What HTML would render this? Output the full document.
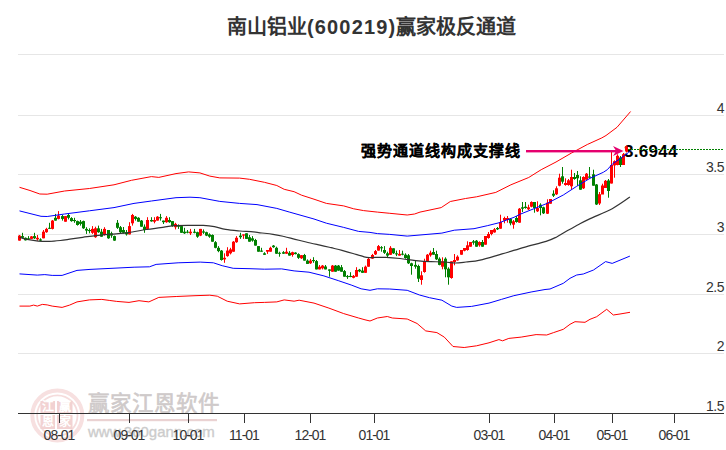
<!DOCTYPE html>
<html lang="zh-CN"><head><meta charset="utf-8">
<style>
html,body{margin:0;padding:0;background:#fff;}
body{width:726px;height:450px;position:relative;overflow:hidden;font-family:"Liberation Sans",sans-serif;}
.abs{position:absolute;white-space:nowrap;}
svg.abs{left:0;top:0;}
.title{left:227px;top:10.7px;font-size:20px;font-weight:bold;color:#333;}
.title .n{letter-spacing:1.15px;}
.yl{font-size:14px;color:#333;right:2px;text-align:right;letter-spacing:-0.5px;}
.xl{font-size:14px;color:#333;width:60px;text-align:center;letter-spacing:-1px;}
.note{left:361px;top:139px;font-size:15px;letter-spacing:1px;font-weight:bold;color:#000;-webkit-text-stroke:0.15px #000;}
.val{left:624px;top:142px;font-size:17px;font-weight:bold;color:#000;letter-spacing:0.3px;}
.wm{left:88px;top:385.5px;font-size:21.5px;color:#cfcaca;-webkit-text-stroke:0.6px #cfcaca;}
.wmu{left:88px;top:423px;font-size:15px;color:#cccccc;-webkit-text-stroke:0.35px #cccccc;}
.st{font-size:12px;font-weight:bold;color:#fff;line-height:12px;}
</style></head><body>
<svg class="abs" width="726" height="450" viewBox="0 0 726 450">
<circle cx="57.3" cy="415.5" r="25" fill="none" stroke="#f7e0e0" stroke-width="4"/>
<circle cx="57.3" cy="415.5" r="20.2" fill="none" stroke="#f5dcdc" stroke-width="1.8"/>
<rect x="40.5" y="401" width="14.5" height="12" fill="#f2d2d2"/>
<rect x="57" y="401" width="15.5" height="12" fill="#f2d2d2"/>
<rect x="40.5" y="415" width="14.5" height="14" fill="#f2d2d2"/>
<rect x="57" y="415" width="15.5" height="14" fill="#f2d2d2"/>
<rect x="87" y="419" width="130" height="2.2" fill="#ead2d2"/>
</svg>
<div class="abs st" style="left:41.5px;top:401px">江</div>
<div class="abs st" style="left:58.5px;top:401px">赢</div>
<div class="abs st" style="left:41.5px;top:416px">恩</div>
<div class="abs st" style="left:58.5px;top:416px">家</div>
<div class="abs wm">赢家江恩软件</div>
<div class="abs wmu">www.360gann.com</div>
<div class="abs note">强势通道线构成支撑线</div>
<div class="abs val">3.6944</div>
<svg class="abs" width="726" height="450" viewBox="0 0 726 450">
<rect x="18" y="54" width="706" height="1" fill="#e6e6e6"/>
<rect x="18" y="115" width="706" height="1" fill="#e6e6e6"/>
<rect x="18" y="174" width="706" height="1" fill="#e6e6e6"/>
<rect x="18" y="234" width="706" height="1" fill="#e6e6e6"/>
<rect x="18" y="294" width="706" height="1" fill="#e6e6e6"/>
<rect x="18" y="353" width="706" height="1" fill="#e6e6e6"/>
<rect x="19" y="235.0" width="1" height="5.6" fill="#ff0000"/>
<rect x="18" y="235.6" width="3" height="5.0" fill="#ff0000"/>
<rect x="22" y="232.8" width="1" height="5.5" fill="#008000"/>
<rect x="21" y="236.1" width="3" height="1.7" fill="#008000"/>
<rect x="25" y="237.5" width="1" height="3.0" fill="#008000"/>
<rect x="24" y="237.8" width="3" height="2.5" fill="#008000"/>
<rect x="28" y="236.1" width="1" height="3.3" fill="#008000"/>
<rect x="27" y="238.3" width="3" height="1.0" fill="#008000"/>
<rect x="31" y="236.0" width="1" height="3.0" fill="#ff0000"/>
<rect x="30" y="236.4" width="3" height="2.5" fill="#ff0000"/>
<rect x="34" y="232.8" width="1" height="6.1" fill="#008000"/>
<rect x="33" y="236.1" width="3" height="2.2" fill="#008000"/>
<rect x="37" y="235.0" width="1" height="5.6" fill="#ff0000"/>
<rect x="36" y="237.8" width="3" height="1.6" fill="#ff0000"/>
<rect x="40" y="238.3" width="1" height="2.8" fill="#008000"/>
<rect x="39" y="239.4" width="3" height="1.2" fill="#008000"/>
<rect x="43" y="230.0" width="1" height="8.3" fill="#ff0000"/>
<rect x="42" y="231.7" width="3" height="6.6" fill="#ff0000"/>
<rect x="46" y="227.8" width="1" height="5.0" fill="#ff0000"/>
<rect x="45" y="228.9" width="3" height="3.3" fill="#ff0000"/>
<rect x="49" y="222.8" width="1" height="6.1" fill="#008000"/>
<rect x="48" y="227.8" width="3" height="1.0" fill="#008000"/>
<rect x="52" y="220.0" width="1" height="9.4" fill="#ff0000"/>
<rect x="51" y="220.6" width="3" height="8.3" fill="#ff0000"/>
<rect x="55" y="213.9" width="1" height="6.7" fill="#008000"/>
<rect x="54" y="217.8" width="3" height="2.8" fill="#008000"/>
<rect x="58" y="211.1" width="1" height="8.3" fill="#ff0000"/>
<rect x="57" y="215.6" width="3" height="3.3" fill="#ff0000"/>
<rect x="62" y="215.0" width="1" height="5.6" fill="#008000"/>
<rect x="61" y="216.1" width="3" height="2.8" fill="#008000"/>
<rect x="65" y="216.0" width="1" height="5.7" fill="#ff0000"/>
<rect x="64" y="216.1" width="3" height="5.6" fill="#ff0000"/>
<rect x="68" y="213.3" width="1" height="6.1" fill="#008000"/>
<rect x="67" y="215.0" width="3" height="2.8" fill="#008000"/>
<rect x="71" y="217.2" width="1" height="4.5" fill="#008000"/>
<rect x="70" y="218.1" width="3" height="3.0" fill="#008000"/>
<rect x="74" y="217.8" width="1" height="5.0" fill="#008000"/>
<rect x="73" y="220.0" width="3" height="1.1" fill="#008000"/>
<rect x="77" y="220.6" width="1" height="5.0" fill="#008000"/>
<rect x="76" y="221.1" width="3" height="3.9" fill="#008000"/>
<rect x="80" y="220.0" width="1" height="5.6" fill="#008000"/>
<rect x="79" y="221.7" width="3" height="2.2" fill="#008000"/>
<rect x="83" y="220.6" width="1" height="8.3" fill="#008000"/>
<rect x="82" y="221.1" width="3" height="7.2" fill="#008000"/>
<rect x="86" y="227.2" width="1" height="6.7" fill="#008000"/>
<rect x="85" y="228.9" width="3" height="1.7" fill="#008000"/>
<rect x="89" y="228.3" width="1" height="5.0" fill="#008000"/>
<rect x="88" y="230.0" width="3" height="1.1" fill="#008000"/>
<rect x="92" y="226.1" width="1" height="7.8" fill="#ff0000"/>
<rect x="91" y="228.9" width="3" height="3.9" fill="#ff0000"/>
<rect x="95" y="226.7" width="1" height="11.1" fill="#ff0000"/>
<rect x="94" y="228.3" width="3" height="8.9" fill="#ff0000"/>
<rect x="98" y="225.6" width="1" height="7.2" fill="#008000"/>
<rect x="97" y="228.3" width="3" height="3.9" fill="#008000"/>
<rect x="101" y="228.9" width="1" height="7.8" fill="#008000"/>
<rect x="100" y="231.7" width="3" height="5.0" fill="#008000"/>
<rect x="104" y="227.2" width="1" height="8.4" fill="#ff0000"/>
<rect x="103" y="228.9" width="3" height="6.1" fill="#ff0000"/>
<rect x="108" y="230.0" width="1" height="8.8" fill="#008000"/>
<rect x="107" y="230.0" width="3" height="8.3" fill="#008000"/>
<rect x="111" y="231.7" width="1" height="6.1" fill="#008000"/>
<rect x="110" y="233.3" width="3" height="2.3" fill="#008000"/>
<rect x="114" y="235.6" width="1" height="5.2" fill="#008000"/>
<rect x="113" y="236.1" width="3" height="4.5" fill="#008000"/>
<rect x="117" y="220.0" width="1" height="8.9" fill="#008000"/>
<rect x="116" y="222.8" width="3" height="5.0" fill="#008000"/>
<rect x="120" y="226.0" width="1" height="7.0" fill="#008000"/>
<rect x="119" y="227.2" width="3" height="5.0" fill="#008000"/>
<rect x="123" y="227.0" width="1" height="6.5" fill="#008000"/>
<rect x="122" y="230.0" width="3" height="2.8" fill="#008000"/>
<rect x="126" y="230.0" width="1" height="5.6" fill="#008000"/>
<rect x="125" y="232.2" width="3" height="2.2" fill="#008000"/>
<rect x="129" y="222.2" width="1" height="12.2" fill="#ff0000"/>
<rect x="128" y="226.1" width="3" height="8.3" fill="#ff0000"/>
<rect x="132" y="213.9" width="1" height="11.7" fill="#ff0000"/>
<rect x="131" y="215.0" width="3" height="8.3" fill="#ff0000"/>
<rect x="135" y="216.1" width="1" height="4.5" fill="#008000"/>
<rect x="134" y="216.7" width="3" height="2.2" fill="#008000"/>
<rect x="138" y="217.2" width="1" height="4.5" fill="#008000"/>
<rect x="137" y="217.8" width="3" height="3.9" fill="#008000"/>
<rect x="141" y="220.0" width="1" height="6.7" fill="#008000"/>
<rect x="140" y="220.6" width="3" height="6.1" fill="#008000"/>
<rect x="144" y="224.4" width="1" height="8.4" fill="#008000"/>
<rect x="143" y="226.7" width="3" height="3.3" fill="#008000"/>
<rect x="147" y="217.2" width="1" height="12.8" fill="#ff0000"/>
<rect x="146" y="220.0" width="3" height="8.9" fill="#ff0000"/>
<rect x="151" y="217.2" width="1" height="4.5" fill="#008000"/>
<rect x="150" y="220.0" width="3" height="1.4" fill="#008000"/>
<rect x="154" y="217.2" width="1" height="6.1" fill="#ff0000"/>
<rect x="153" y="220.0" width="3" height="1.7" fill="#ff0000"/>
<rect x="157" y="216.1" width="1" height="4.5" fill="#ff0000"/>
<rect x="156" y="216.7" width="3" height="3.9" fill="#ff0000"/>
<rect x="160" y="213.9" width="1" height="6.7" fill="#008000"/>
<rect x="159" y="217.2" width="3" height="1.1" fill="#008000"/>
<rect x="163" y="220.6" width="1" height="3.4" fill="#008000"/>
<rect x="162" y="220.6" width="3" height="1.6" fill="#008000"/>
<rect x="166" y="216.1" width="1" height="6.7" fill="#ff0000"/>
<rect x="165" y="217.8" width="3" height="4.4" fill="#ff0000"/>
<rect x="169" y="217.2" width="1" height="5.6" fill="#008000"/>
<rect x="168" y="220.0" width="3" height="2.2" fill="#008000"/>
<rect x="172" y="221.1" width="1" height="5.6" fill="#008000"/>
<rect x="171" y="221.1" width="3" height="5.0" fill="#008000"/>
<rect x="175" y="222.8" width="1" height="6.6" fill="#ff0000"/>
<rect x="174" y="223.9" width="3" height="3.3" fill="#ff0000"/>
<rect x="178" y="224.4" width="1" height="4.5" fill="#008000"/>
<rect x="177" y="225.6" width="3" height="1.1" fill="#008000"/>
<rect x="181" y="225.6" width="1" height="7.2" fill="#008000"/>
<rect x="180" y="226.1" width="3" height="6.7" fill="#008000"/>
<rect x="184" y="227.8" width="1" height="6.1" fill="#008000"/>
<rect x="183" y="231.7" width="3" height="1.6" fill="#008000"/>
<rect x="187" y="230.0" width="1" height="3.3" fill="#008000"/>
<rect x="186" y="231.7" width="3" height="1.0" fill="#008000"/>
<rect x="190" y="228.9" width="1" height="6.1" fill="#ff0000"/>
<rect x="189" y="231.7" width="3" height="1.6" fill="#ff0000"/>
<rect x="194" y="228.9" width="1" height="4.4" fill="#008000"/>
<rect x="193" y="231.7" width="3" height="1.1" fill="#008000"/>
<rect x="197" y="231.7" width="1" height="6.1" fill="#008000"/>
<rect x="196" y="232.2" width="3" height="4.5" fill="#008000"/>
<rect x="200" y="228.9" width="1" height="7.2" fill="#ff0000"/>
<rect x="199" y="228.9" width="3" height="6.7" fill="#ff0000"/>
<rect x="203" y="229.4" width="1" height="4.5" fill="#008000"/>
<rect x="202" y="231.4" width="3" height="1.2" fill="#008000"/>
<rect x="206" y="231.7" width="1" height="4.4" fill="#008000"/>
<rect x="205" y="232.2" width="3" height="3.4" fill="#008000"/>
<rect x="209" y="233.3" width="1" height="4.5" fill="#008000"/>
<rect x="208" y="234.4" width="3" height="2.3" fill="#008000"/>
<rect x="212" y="234.4" width="1" height="7.3" fill="#008000"/>
<rect x="211" y="235.0" width="3" height="6.7" fill="#008000"/>
<rect x="215" y="241.1" width="1" height="7.2" fill="#008000"/>
<rect x="214" y="242.2" width="3" height="5.6" fill="#008000"/>
<rect x="218" y="246.1" width="1" height="6.1" fill="#008000"/>
<rect x="217" y="247.8" width="3" height="3.3" fill="#008000"/>
<rect x="221" y="250.0" width="1" height="10.6" fill="#008000"/>
<rect x="220" y="250.6" width="3" height="9.4" fill="#008000"/>
<rect x="224" y="253.3" width="1" height="9.5" fill="#ff0000"/>
<rect x="223" y="257.8" width="3" height="1.6" fill="#ff0000"/>
<rect x="227" y="247.2" width="1" height="9.5" fill="#ff0000"/>
<rect x="226" y="250.6" width="3" height="5.5" fill="#ff0000"/>
<rect x="230" y="247.8" width="1" height="6.6" fill="#ff0000"/>
<rect x="229" y="249.4" width="3" height="3.9" fill="#ff0000"/>
<rect x="233" y="241.1" width="1" height="10.6" fill="#ff0000"/>
<rect x="232" y="241.7" width="3" height="10.0" fill="#ff0000"/>
<rect x="236" y="236.1" width="1" height="6.7" fill="#ff0000"/>
<rect x="235" y="237.8" width="3" height="4.4" fill="#ff0000"/>
<rect x="240" y="232.8" width="1" height="6.1" fill="#008000"/>
<rect x="239" y="235.6" width="3" height="1.6" fill="#008000"/>
<rect x="243" y="234.4" width="1" height="4.5" fill="#ff0000"/>
<rect x="242" y="234.4" width="3" height="1.2" fill="#ff0000"/>
<rect x="246" y="233.3" width="1" height="5.6" fill="#008000"/>
<rect x="245" y="233.3" width="3" height="5.6" fill="#008000"/>
<rect x="249" y="235.0" width="1" height="6.7" fill="#008000"/>
<rect x="248" y="237.2" width="3" height="4.5" fill="#008000"/>
<rect x="252" y="236.1" width="1" height="5.6" fill="#008000"/>
<rect x="251" y="238.3" width="3" height="2.3" fill="#008000"/>
<rect x="255" y="238.9" width="1" height="6.7" fill="#008000"/>
<rect x="254" y="240.0" width="3" height="5.6" fill="#008000"/>
<rect x="258" y="246.1" width="1" height="5.6" fill="#008000"/>
<rect x="257" y="246.1" width="3" height="5.6" fill="#008000"/>
<rect x="261" y="247.8" width="1" height="3.9" fill="#008000"/>
<rect x="260" y="250.6" width="3" height="1.1" fill="#008000"/>
<rect x="264" y="252.2" width="1" height="2.8" fill="#008000"/>
<rect x="263" y="253.3" width="3" height="1.5" fill="#008000"/>
<rect x="267" y="250.0" width="1" height="3.9" fill="#ff0000"/>
<rect x="266" y="250.0" width="3" height="1.7" fill="#ff0000"/>
<rect x="270" y="246.7" width="1" height="5.0" fill="#ff0000"/>
<rect x="269" y="247.8" width="3" height="3.9" fill="#ff0000"/>
<rect x="273" y="245.0" width="1" height="2.8" fill="#008000"/>
<rect x="272" y="245.6" width="3" height="1.6" fill="#008000"/>
<rect x="276" y="246.7" width="1" height="7.2" fill="#008000"/>
<rect x="275" y="247.8" width="3" height="5.9" fill="#008000"/>
<rect x="279" y="251.7" width="1" height="5.0" fill="#008000"/>
<rect x="278" y="252.8" width="3" height="1.0" fill="#008000"/>
<rect x="283" y="251.1" width="1" height="2.8" fill="#008000"/>
<rect x="282" y="252.2" width="3" height="1.5" fill="#008000"/>
<rect x="286" y="247.8" width="1" height="6.1" fill="#ff0000"/>
<rect x="285" y="251.7" width="3" height="2.0" fill="#ff0000"/>
<rect x="289" y="251.1" width="1" height="4.5" fill="#008000"/>
<rect x="288" y="252.8" width="3" height="2.8" fill="#008000"/>
<rect x="292" y="251.7" width="1" height="5.0" fill="#ff0000"/>
<rect x="291" y="252.2" width="3" height="2.8" fill="#ff0000"/>
<rect x="295" y="252.2" width="1" height="2.2" fill="#008000"/>
<rect x="294" y="252.6" width="3" height="1.5" fill="#008000"/>
<rect x="298" y="253.3" width="1" height="5.6" fill="#008000"/>
<rect x="297" y="254.1" width="3" height="3.7" fill="#008000"/>
<rect x="301" y="255.0" width="1" height="3.9" fill="#ff0000"/>
<rect x="300" y="255.2" width="3" height="3.1" fill="#ff0000"/>
<rect x="304" y="253.9" width="1" height="6.7" fill="#008000"/>
<rect x="303" y="255.0" width="3" height="5.6" fill="#008000"/>
<rect x="307" y="259.4" width="1" height="4.5" fill="#008000"/>
<rect x="306" y="260.6" width="3" height="3.3" fill="#008000"/>
<rect x="310" y="258.9" width="1" height="5.0" fill="#ff0000"/>
<rect x="309" y="260.6" width="3" height="2.7" fill="#ff0000"/>
<rect x="313" y="257.2" width="1" height="5.6" fill="#008000"/>
<rect x="312" y="260.0" width="3" height="1.1" fill="#008000"/>
<rect x="316" y="260.0" width="1" height="9.4" fill="#008000"/>
<rect x="315" y="261.1" width="3" height="8.3" fill="#008000"/>
<rect x="319" y="265.0" width="1" height="4.4" fill="#ff0000"/>
<rect x="318" y="266.7" width="3" height="2.7" fill="#ff0000"/>
<rect x="322" y="265.0" width="1" height="4.4" fill="#ff0000"/>
<rect x="321" y="265.6" width="3" height="2.7" fill="#ff0000"/>
<rect x="325" y="265.0" width="1" height="4.4" fill="#008000"/>
<rect x="324" y="266.5" width="3" height="2.9" fill="#008000"/>
<rect x="329" y="269.4" width="1" height="7.3" fill="#008000"/>
<rect x="328" y="269.4" width="3" height="1.4" fill="#008000"/>
<rect x="332" y="265.0" width="1" height="6.7" fill="#ff0000"/>
<rect x="331" y="265.6" width="3" height="6.1" fill="#ff0000"/>
<rect x="335" y="265.0" width="1" height="6.7" fill="#008000"/>
<rect x="334" y="265.6" width="3" height="6.1" fill="#008000"/>
<rect x="338" y="265.0" width="1" height="5.8" fill="#008000"/>
<rect x="337" y="265.6" width="3" height="5.0" fill="#008000"/>
<rect x="341" y="265.0" width="1" height="6.7" fill="#008000"/>
<rect x="340" y="267.2" width="3" height="4.5" fill="#008000"/>
<rect x="344" y="270.0" width="1" height="6.7" fill="#008000"/>
<rect x="343" y="271.1" width="3" height="5.6" fill="#008000"/>
<rect x="347" y="275.0" width="1" height="3.9" fill="#008000"/>
<rect x="346" y="276.1" width="3" height="1.0" fill="#008000"/>
<rect x="350" y="272.2" width="1" height="5.0" fill="#008000"/>
<rect x="349" y="275.9" width="3" height="1.1" fill="#008000"/>
<rect x="353" y="275.0" width="1" height="3.3" fill="#ff0000"/>
<rect x="352" y="275.9" width="3" height="1.9" fill="#ff0000"/>
<rect x="356" y="267.2" width="1" height="9.5" fill="#ff0000"/>
<rect x="355" y="270.0" width="3" height="6.7" fill="#ff0000"/>
<rect x="359" y="268.9" width="1" height="3.3" fill="#008000"/>
<rect x="358" y="269.7" width="3" height="1.7" fill="#008000"/>
<rect x="362" y="267.2" width="1" height="5.6" fill="#008000"/>
<rect x="361" y="270.6" width="3" height="2.2" fill="#008000"/>
<rect x="365" y="265.6" width="1" height="7.2" fill="#ff0000"/>
<rect x="364" y="266.7" width="3" height="6.1" fill="#ff0000"/>
<rect x="368" y="257.8" width="1" height="8.9" fill="#ff0000"/>
<rect x="367" y="258.9" width="3" height="7.8" fill="#ff0000"/>
<rect x="372" y="253.9" width="1" height="5.0" fill="#ff0000"/>
<rect x="371" y="255.0" width="3" height="3.6" fill="#ff0000"/>
<rect x="375" y="250.0" width="1" height="5.0" fill="#ff0000"/>
<rect x="374" y="251.1" width="3" height="3.3" fill="#ff0000"/>
<rect x="378" y="245.0" width="1" height="5.6" fill="#ff0000"/>
<rect x="377" y="246.1" width="3" height="4.5" fill="#ff0000"/>
<rect x="381" y="246.1" width="1" height="5.6" fill="#008000"/>
<rect x="380" y="247.2" width="3" height="1.1" fill="#008000"/>
<rect x="384" y="246.1" width="1" height="7.8" fill="#008000"/>
<rect x="383" y="250.0" width="3" height="2.8" fill="#008000"/>
<rect x="387" y="251.7" width="1" height="5.5" fill="#008000"/>
<rect x="386" y="253.3" width="3" height="2.3" fill="#008000"/>
<rect x="390" y="246.1" width="1" height="8.9" fill="#ff0000"/>
<rect x="389" y="247.8" width="3" height="7.0" fill="#ff0000"/>
<rect x="393" y="248.3" width="1" height="5.6" fill="#008000"/>
<rect x="392" y="248.3" width="3" height="5.0" fill="#008000"/>
<rect x="396" y="250.6" width="1" height="5.5" fill="#008000"/>
<rect x="395" y="253.3" width="3" height="1.1" fill="#008000"/>
<rect x="399" y="250.0" width="1" height="5.6" fill="#ff0000"/>
<rect x="398" y="253.9" width="3" height="1.7" fill="#ff0000"/>
<rect x="402" y="250.7" width="1" height="4.6" fill="#008000"/>
<rect x="401" y="253.7" width="3" height="1.0" fill="#008000"/>
<rect x="405" y="253.3" width="1" height="5.4" fill="#008000"/>
<rect x="404" y="254.7" width="3" height="3.3" fill="#008000"/>
<rect x="408" y="254.0" width="1" height="10.0" fill="#008000"/>
<rect x="407" y="255.3" width="3" height="8.0" fill="#008000"/>
<rect x="411" y="262.7" width="1" height="12.0" fill="#008000"/>
<rect x="410" y="263.3" width="3" height="2.7" fill="#008000"/>
<rect x="415" y="260.7" width="1" height="8.0" fill="#008000"/>
<rect x="414" y="264.9" width="3" height="1.8" fill="#008000"/>
<rect x="418" y="264.7" width="1" height="17.3" fill="#008000"/>
<rect x="417" y="266.0" width="3" height="12.7" fill="#008000"/>
<rect x="421" y="271.3" width="1" height="13.4" fill="#ff0000"/>
<rect x="420" y="275.3" width="3" height="4.7" fill="#ff0000"/>
<rect x="424" y="258.7" width="1" height="14.0" fill="#ff0000"/>
<rect x="423" y="262.0" width="3" height="10.0" fill="#ff0000"/>
<rect x="427" y="254.0" width="1" height="8.0" fill="#ff0000"/>
<rect x="426" y="254.7" width="3" height="6.6" fill="#ff0000"/>
<rect x="430" y="250.7" width="1" height="6.0" fill="#ff0000"/>
<rect x="429" y="252.7" width="3" height="2.6" fill="#ff0000"/>
<rect x="433" y="248.0" width="1" height="6.7" fill="#008000"/>
<rect x="432" y="252.0" width="3" height="2.7" fill="#008000"/>
<rect x="436" y="250.7" width="1" height="9.3" fill="#008000"/>
<rect x="435" y="254.0" width="3" height="5.3" fill="#008000"/>
<rect x="439" y="257.3" width="1" height="8.0" fill="#008000"/>
<rect x="438" y="258.7" width="3" height="6.2" fill="#008000"/>
<rect x="442" y="257.3" width="1" height="12.0" fill="#ff0000"/>
<rect x="441" y="261.3" width="3" height="5.4" fill="#ff0000"/>
<rect x="445" y="257.3" width="1" height="20.0" fill="#008000"/>
<rect x="444" y="258.7" width="3" height="10.6" fill="#008000"/>
<rect x="448" y="267.3" width="1" height="17.4" fill="#008000"/>
<rect x="447" y="268.7" width="3" height="8.6" fill="#008000"/>
<rect x="451" y="261.3" width="1" height="17.4" fill="#ff0000"/>
<rect x="450" y="261.3" width="3" height="16.7" fill="#ff0000"/>
<rect x="454" y="254.0" width="1" height="11.3" fill="#ff0000"/>
<rect x="453" y="260.0" width="3" height="2.0" fill="#ff0000"/>
<rect x="457" y="255.3" width="1" height="5.4" fill="#ff0000"/>
<rect x="456" y="256.7" width="3" height="3.7" fill="#ff0000"/>
<rect x="461" y="250.0" width="1" height="4.7" fill="#ff0000"/>
<rect x="460" y="250.0" width="3" height="4.7" fill="#ff0000"/>
<rect x="464" y="248.0" width="1" height="3.3" fill="#ff0000"/>
<rect x="463" y="248.0" width="3" height="2.7" fill="#ff0000"/>
<rect x="467" y="241.3" width="1" height="9.4" fill="#ff0000"/>
<rect x="466" y="245.3" width="3" height="4.7" fill="#ff0000"/>
<rect x="470" y="242.0" width="1" height="4.7" fill="#ff0000"/>
<rect x="469" y="242.0" width="3" height="4.7" fill="#ff0000"/>
<rect x="473" y="240.0" width="1" height="4.7" fill="#008000"/>
<rect x="472" y="241.3" width="3" height="1.4" fill="#008000"/>
<rect x="476" y="240.0" width="1" height="6.7" fill="#008000"/>
<rect x="475" y="240.7" width="3" height="6.0" fill="#008000"/>
<rect x="479" y="241.3" width="1" height="5.4" fill="#ff0000"/>
<rect x="478" y="242.0" width="3" height="3.3" fill="#ff0000"/>
<rect x="482" y="240.0" width="1" height="6.7" fill="#008000"/>
<rect x="481" y="242.0" width="3" height="4.7" fill="#008000"/>
<rect x="485" y="236.0" width="1" height="8.7" fill="#ff0000"/>
<rect x="484" y="236.0" width="3" height="8.7" fill="#ff0000"/>
<rect x="488" y="232.0" width="1" height="6.7" fill="#ff0000"/>
<rect x="487" y="234.0" width="3" height="4.0" fill="#ff0000"/>
<rect x="491" y="230.0" width="1" height="5.3" fill="#ff0000"/>
<rect x="490" y="230.0" width="3" height="4.0" fill="#ff0000"/>
<rect x="494" y="228.0" width="1" height="4.7" fill="#ff0000"/>
<rect x="493" y="229.3" width="3" height="3.1" fill="#ff0000"/>
<rect x="497" y="227.0" width="1" height="3.0" fill="#008000"/>
<rect x="496" y="228.0" width="3" height="1.3" fill="#008000"/>
<rect x="500" y="214.7" width="1" height="14.0" fill="#ff0000"/>
<rect x="499" y="222.0" width="3" height="6.7" fill="#ff0000"/>
<rect x="504" y="216.7" width="1" height="6.6" fill="#ff0000"/>
<rect x="503" y="218.0" width="3" height="2.7" fill="#ff0000"/>
<rect x="507" y="216.0" width="1" height="6.7" fill="#ff0000"/>
<rect x="506" y="218.0" width="3" height="2.0" fill="#ff0000"/>
<rect x="510" y="218.0" width="1" height="7.3" fill="#008000"/>
<rect x="509" y="218.7" width="3" height="4.6" fill="#008000"/>
<rect x="513" y="220.0" width="1" height="8.7" fill="#ff0000"/>
<rect x="512" y="221.3" width="3" height="3.4" fill="#ff0000"/>
<rect x="516" y="216.0" width="1" height="6.7" fill="#008000"/>
<rect x="515" y="218.0" width="3" height="4.0" fill="#008000"/>
<rect x="519" y="208.0" width="1" height="14.7" fill="#ff0000"/>
<rect x="518" y="208.7" width="3" height="14.0" fill="#ff0000"/>
<rect x="522" y="202.0" width="1" height="10.0" fill="#008000"/>
<rect x="521" y="207.3" width="3" height="1.4" fill="#008000"/>
<rect x="525" y="202.0" width="1" height="6.7" fill="#008000"/>
<rect x="524" y="206.7" width="3" height="1.3" fill="#008000"/>
<rect x="528" y="204.7" width="1" height="5.3" fill="#ff0000"/>
<rect x="527" y="207.3" width="3" height="2.0" fill="#ff0000"/>
<rect x="531" y="201.3" width="1" height="6.0" fill="#ff0000"/>
<rect x="530" y="202.0" width="3" height="4.7" fill="#ff0000"/>
<rect x="534" y="202.0" width="1" height="10.7" fill="#008000"/>
<rect x="533" y="202.0" width="3" height="6.0" fill="#008000"/>
<rect x="537" y="201.3" width="1" height="10.7" fill="#ff0000"/>
<rect x="536" y="208.0" width="3" height="3.3" fill="#ff0000"/>
<rect x="540" y="203.3" width="1" height="12.0" fill="#008000"/>
<rect x="539" y="204.7" width="3" height="3.3" fill="#008000"/>
<rect x="543" y="206.7" width="1" height="7.3" fill="#008000"/>
<rect x="542" y="207.3" width="3" height="6.0" fill="#008000"/>
<rect x="547" y="199.3" width="1" height="14.7" fill="#ff0000"/>
<rect x="546" y="202.7" width="3" height="11.0" fill="#ff0000"/>
<rect x="550" y="199.3" width="1" height="4.4" fill="#ff0000"/>
<rect x="549" y="199.0" width="3" height="4.7" fill="#ff0000"/>
<rect x="553" y="190.3" width="1" height="6.7" fill="#008000"/>
<rect x="552" y="193.7" width="3" height="2.0" fill="#008000"/>
<rect x="556" y="186.3" width="1" height="8.7" fill="#ff0000"/>
<rect x="555" y="188.3" width="3" height="6.0" fill="#ff0000"/>
<rect x="559" y="173.7" width="1" height="12.6" fill="#ff0000"/>
<rect x="558" y="177.7" width="3" height="8.0" fill="#ff0000"/>
<rect x="562" y="167.0" width="1" height="16.7" fill="#008000"/>
<rect x="561" y="176.3" width="3" height="5.4" fill="#008000"/>
<rect x="565" y="178.3" width="1" height="7.4" fill="#ff0000"/>
<rect x="564" y="183.0" width="3" height="2.0" fill="#ff0000"/>
<rect x="568" y="179.0" width="1" height="6.7" fill="#ff0000"/>
<rect x="567" y="180.3" width="3" height="4.7" fill="#ff0000"/>
<rect x="571" y="169.7" width="1" height="20.0" fill="#ff0000"/>
<rect x="570" y="177.0" width="3" height="9.3" fill="#ff0000"/>
<rect x="574" y="173.0" width="1" height="6.7" fill="#008000"/>
<rect x="573" y="177.0" width="3" height="2.0" fill="#008000"/>
<rect x="577" y="171.0" width="1" height="14.7" fill="#008000"/>
<rect x="576" y="175.0" width="3" height="3.3" fill="#008000"/>
<rect x="580" y="176.3" width="1" height="13.4" fill="#008000"/>
<rect x="579" y="180.3" width="3" height="9.4" fill="#008000"/>
<rect x="583" y="176.3" width="1" height="12.7" fill="#ff0000"/>
<rect x="582" y="177.0" width="3" height="11.3" fill="#ff0000"/>
<rect x="586" y="173.0" width="1" height="6.7" fill="#ff0000"/>
<rect x="585" y="173.7" width="3" height="6.0" fill="#ff0000"/>
<rect x="589" y="167.0" width="1" height="10.7" fill="#008000"/>
<rect x="588" y="176.5" width="3" height="1.2" fill="#008000"/>
<rect x="593" y="169.7" width="1" height="16.0" fill="#008000"/>
<rect x="592" y="174.3" width="3" height="11.4" fill="#008000"/>
<rect x="596" y="184.0" width="1" height="21.0" fill="#008000"/>
<rect x="595" y="184.5" width="3" height="20.0" fill="#008000"/>
<rect x="599" y="192.0" width="1" height="13.0" fill="#ff0000"/>
<rect x="598" y="194.2" width="3" height="9.3" fill="#ff0000"/>
<rect x="602" y="183.7" width="1" height="10.3" fill="#ff0000"/>
<rect x="601" y="185.5" width="3" height="9.0" fill="#ff0000"/>
<rect x="605" y="180.0" width="1" height="7.7" fill="#ff0000"/>
<rect x="604" y="180.8" width="3" height="7.2" fill="#ff0000"/>
<rect x="608" y="179.0" width="1" height="18.7" fill="#008000"/>
<rect x="607" y="180.5" width="3" height="10.5" fill="#008000"/>
<rect x="611" y="151.7" width="1" height="31.8" fill="#ff0000"/>
<rect x="610" y="165.0" width="3" height="18.5" fill="#ff0000"/>
<rect x="614" y="160.3" width="1" height="17.4" fill="#ff0000"/>
<rect x="613" y="161.2" width="3" height="4.2" fill="#ff0000"/>
<rect x="617" y="154.3" width="1" height="11.0" fill="#ff0000"/>
<rect x="616" y="155.8" width="3" height="9.2" fill="#ff0000"/>
<rect x="620" y="156.0" width="1" height="11.0" fill="#008000"/>
<rect x="619" y="157.5" width="3" height="7.5" fill="#008000"/>
<rect x="623" y="153.0" width="1" height="12.0" fill="#ff0000"/>
<rect x="622" y="154.2" width="3" height="10.8" fill="#ff0000"/>
<rect x="626" y="145.5" width="1" height="7.0" fill="#ff0000"/>
<rect x="625" y="146.5" width="3" height="5.0" fill="#ff0000"/>
<polyline points="19.5,187.3 30.0,190.5 39.8,194.0 47.2,194.2 64.6,191.0 89.4,188.5 114.0,184.8 131.5,180.3 151.4,176.6 158.8,177.4 176.0,173.6 188.6,171.9 199.9,172.9 209.8,176.1 219.8,177.9 239.6,178.1 249.5,179.3 264.4,182.3 276.8,185.5 284.2,189.3 294.1,191.7 301.6,195.2 314.0,199.2 326.4,203.4 343.7,205.9 353.7,208.8 363.6,210.6 377.4,212.1 389.8,213.3 407.2,215.0 414.6,214.0 420.0,212.1 441.2,207.6 450.3,201.5 465.5,198.5 476.6,196.8 495.8,192.4 510.9,184.8 528.7,177.5 541.2,169.7 556.0,162.0 571.5,153.0 587.3,144.5 601.8,137.9 606.0,135.5 617.0,127.3 630.6,111.5" fill="none" stroke="#ff0000" stroke-width="1"/>
<polyline points="19.5,306.1 29.9,306.1 33.6,305.1 37.3,306.1 42.3,304.4 47.2,304.9 52.2,306.1 62.1,307.4 69.6,305.1 77.0,301.9 89.4,299.9 101.8,299.4 109.2,300.4 116.7,301.4 129.0,302.4 139.0,300.7 148.9,301.9 158.8,297.4 176.2,296.5 195.0,295.7 209.8,295.2 217.3,296.2 227.2,301.2 239.6,303.9 254.5,302.7 264.4,302.4 276.8,301.9 284.2,299.9 294.1,301.2 299.1,300.2 314.0,303.1 328.9,308.1 343.7,313.6 358.6,318.0 365.0,319.8 370.0,321.0 377.4,318.0 387.3,316.5 392.3,318.0 407.2,319.0 417.1,323.5 425.7,330.9 436.9,332.6 444.3,337.1 453.0,346.5 464.2,347.5 476.6,345.8 489.0,342.8 498.9,339.6 502.6,340.8 508.8,338.4 521.2,337.1 536.1,334.6 546.7,335.0 553.3,332.7 563.3,329.3 570.0,324.3 575.0,321.7 585.0,322.3 590.0,319.3 596.7,316.7 606.7,309.3 613.3,315.0 620.0,314.0 630.0,312.3" fill="none" stroke="#ff0000" stroke-width="1"/>
<polyline points="19.5,210.9 41.0,216.3 47.2,216.5 64.6,214.0 89.4,210.8 114.0,207.6 134.0,203.4 151.4,201.0 176.0,197.7 190.0,197.2 199.9,197.7 219.8,201.4 239.6,203.4 257.0,204.6 276.8,208.4 289.2,212.0 314.0,219.0 326.4,223.2 343.7,227.4 358.6,231.4 370.0,232.4 377.4,233.6 389.8,234.4 407.2,236.1 427.0,234.4 441.9,233.1 454.3,230.2 474.0,228.7 487.3,225.7 499.3,222.7 514.0,217.3 520.7,214.0 534.0,208.7 547.3,203.3 563.3,195.0 576.7,186.3 590.0,178.3 603.3,172.3 607.3,169.7 612.7,163.7 620.7,158.3 628.7,152.3 630.5,151.0" fill="none" stroke="#0000ff" stroke-width="1"/>
<polyline points="19.5,273.9 37.3,275.1 44.8,274.6 52.2,275.4 62.1,275.4 77.0,270.4 90.0,269.4 112.0,268.3 134.1,267.2 149.5,266.8 156.1,264.4 178.1,262.8 200.2,262.1 213.4,262.8 222.2,265.7 233.2,268.3 250.0,268.7 264.4,269.2 281.7,268.9 294.1,270.9 309.0,272.2 323.9,275.9 338.8,280.8 351.2,285.0 361.1,288.8 370.0,290.3 377.4,288.8 389.8,289.0 407.2,290.3 419.5,295.0 429.5,297.7 441.9,300.2 451.8,306.1 456.7,307.4 471.6,306.4 489.0,303.1 501.4,299.4 513.8,295.7 531.1,292.0 545.0,289.5 550.0,289.0 563.3,283.3 570.0,278.3 576.7,275.0 583.3,274.0 593.5,270.0 605.6,261.6 612.2,263.4 629.9,256.1" fill="none" stroke="#0000ff" stroke-width="1"/>
<path d="M19.5,237.4 C20.8,237.7 24.0,238.8 27.1,239.4 C30.2,240.0 34.5,240.8 38.2,241.1 C41.9,241.4 45.6,241.5 49.3,241.4 C53.0,241.3 56.7,240.9 60.4,240.5 C64.1,240.1 67.9,239.4 71.6,238.9 C75.3,238.4 78.6,237.9 82.7,237.3 C86.8,236.8 90.4,236.2 96.0,235.6 C101.6,235.0 110.8,234.3 116.2,233.8 C121.6,233.3 123.6,233.3 128.6,232.6 C133.6,231.9 141.0,230.3 146.3,229.5 C151.7,228.7 156.1,228.3 160.7,227.7 C165.3,227.0 168.8,226.0 174.0,225.6 C179.2,225.2 187.3,225.3 192.2,225.3 C197.1,225.3 199.6,225.2 203.3,225.4 C207.0,225.6 210.7,226.0 214.4,226.7 C218.1,227.4 221.3,228.7 225.6,229.4 C229.9,230.1 235.8,230.6 240.0,231.0 C244.2,231.4 247.3,231.3 251.0,231.6 C254.7,231.9 258.3,232.6 262.0,233.0 C265.7,233.4 269.3,233.7 273.0,234.3 C276.7,234.9 280.3,235.7 284.0,236.5 C287.7,237.3 291.4,238.4 295.1,239.3 C298.8,240.2 302.0,241.0 306.1,242.0 C310.2,243.0 315.9,244.2 320.0,245.1 C324.1,246.0 327.3,246.8 331.0,247.7 C334.7,248.6 338.3,249.4 342.0,250.4 C345.7,251.4 349.3,252.4 353.0,253.5 C356.7,254.6 361.3,256.1 364.1,256.8 C366.9,257.5 367.8,257.5 369.6,257.6 C371.4,257.7 372.4,257.4 375.1,257.4 C377.9,257.4 382.0,257.2 386.1,257.4 C390.2,257.6 394.2,257.9 400.0,258.5 C405.8,259.1 413.7,260.6 421.0,261.2 C428.3,261.8 438.3,261.7 444.0,262.0 C449.7,262.3 451.3,263.0 455.0,263.0 C458.7,263.0 461.8,262.5 466.0,262.0 C470.2,261.5 474.0,261.5 480.0,260.1 C486.0,258.8 494.6,256.0 502.0,253.9 C509.4,251.8 516.8,249.4 524.1,247.3 C531.5,245.2 540.6,243.2 546.1,241.4 C551.6,239.6 553.4,238.5 557.1,236.7 C560.8,234.8 564.4,232.4 568.1,230.3 C571.8,228.2 575.5,226.1 579.2,224.2 C582.9,222.2 584.7,221.2 590.2,218.6 C595.7,216.0 605.6,212.3 612.2,208.7 C618.8,205.1 627.0,199.0 629.9,197.1" fill="none" stroke="#333333" stroke-width="1.2"/>
<rect x="18" y="413" width="706" height="1" fill="#333"/>
<g fill="#333">
<rect x="59" y="413" width="1" height="10"/>
<rect x="129" y="413" width="1" height="10"/>
<rect x="188" y="413" width="1" height="10"/>
<rect x="244" y="413" width="1" height="10"/>
<rect x="310" y="413" width="1" height="10"/>
<rect x="374" y="413" width="1" height="10"/>
<rect x="489" y="413" width="1" height="10"/>
<rect x="554" y="413" width="1" height="10"/>
<rect x="612" y="413" width="1" height="10"/>
<rect x="674" y="413" width="1" height="10"/>
</g>
<rect x="526" y="150" width="90" height="2.4" fill="#e5006e"/>
<path d="M613,146 L623.5,151 L613,156 L616.2,151 Z" fill="#e5006e"/>
<line x1="628" y1="149.5" x2="723" y2="149.5" stroke="#008000" stroke-width="1" stroke-dasharray="2,1"/>
</svg>
<div class="abs title">南山铝业<span class="n">(600219)</span>赢家极反通道</div>
<div class="abs yl" style="top:100px">4</div>
<div class="abs yl" style="top:159px">3.5</div>
<div class="abs yl" style="top:219px">3</div>
<div class="abs yl" style="top:279px">2.5</div>
<div class="abs yl" style="top:338px">2</div>
<div class="abs yl" style="top:398px">1.5</div>
<div class="abs xl" style="left:29px;top:427px">08-01</div>
<div class="abs xl" style="left:99px;top:427px">09-01</div>
<div class="abs xl" style="left:158px;top:427px">10-01</div>
<div class="abs xl" style="left:214px;top:427px">11-01</div>
<div class="abs xl" style="left:280px;top:427px">12-01</div>
<div class="abs xl" style="left:344px;top:427px">01-01</div>
<div class="abs xl" style="left:459px;top:427px">03-01</div>
<div class="abs xl" style="left:524px;top:427px">04-01</div>
<div class="abs xl" style="left:582px;top:427px">05-01</div>
<div class="abs xl" style="left:644px;top:427px">06-01</div>
</body></html>
